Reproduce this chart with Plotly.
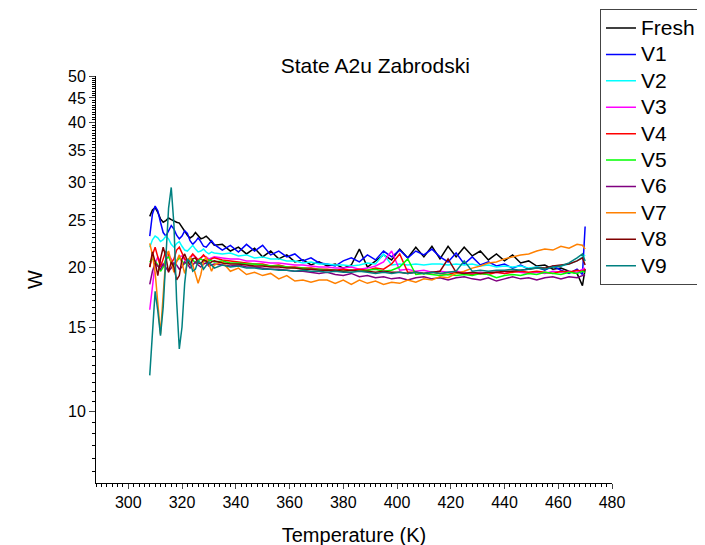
import plotly.graph_objects as go

# temperature grid (K) shared by all samples
TEMP = list(range(308, 333)) + list(range(335, 468, 3)) + [469, 470]

SERIES_NAMES = ['Fresh', 'V1', 'V2', 'V3', 'V4', 'V5', 'V6', 'V7', 'V8', 'V9']
COLORS = ['#000000', '#0000FF', '#00FFFF', '#FF00FF', '#FF0000',
          '#00FF00', '#800080', '#FF8000', '#800000', '#008080']

fresh = [25.5, 26.3, 26.6, 26.0, 25.2, 24.8, 25.0, 25.3, 25.1, 24.9, 24.8, 24.7, 24.2,
         23.8, 23.3, 23.0, 23.2, 23.6, 23.3, 22.9, 23.0, 23.2, 22.9, 22.5, 22.2,
         22.3, 21.6, 22.0, 21.3, 21.9, 21.0, 21.6, 20.8, 21.2, 20.5,
         20.7, 20.2, 20.5, 20.1, 20.3, 19.9, 20.2, 21.8, 20.0, 20.6,
         21.2, 20.7, 21.8, 20.9, 22.0, 21.0, 22.1, 20.8, 22.1, 21.0,
         22.0, 21.1, 21.6, 20.7, 21.3, 20.6, 21.2, 20.4, 20.6, 20.1,
         20.2, 19.8, 19.9, 19.6, 19.4, 18.3, 19.8]
v1 = [23.2, 25.8, 26.8, 26.2, 24.8, 23.6, 23.2, 23.8, 24.4, 24.0, 23.3, 22.9, 23.2,
      23.8, 23.5, 22.7, 22.3, 22.6, 23.0, 22.6, 22.1, 22.0, 22.4, 22.7, 22.3,
      21.7, 22.2, 21.5, 22.3, 21.6, 22.2, 21.2, 21.6, 21.0, 21.3,
      20.6, 20.9, 20.4, 20.3, 20.1, 20.6, 20.9, 20.5, 21.2, 20.7,
      21.6, 21.0, 21.7, 20.9, 21.6, 21.2, 21.8, 21.0, 20.5, 21.4,
      20.3, 21.0, 20.2, 20.5, 20.1, 20.3, 19.9, 20.2, 19.8, 20.0,
      19.7, 20.1, 19.7, 19.4, 19.8, 19.3, 24.3]
v2 = [22.0, 22.8, 23.2, 23.0, 22.6, 22.8, 23.2, 22.9, 22.3, 22.0, 22.4, 22.6, 22.1,
      21.7, 21.6, 21.9, 22.2, 21.8, 21.5, 21.6, 21.8, 21.5, 21.3, 21.5, 21.4,
      21.3, 21.4, 21.1, 21.2, 20.9, 21.0, 20.8, 20.8, 20.6, 20.6,
      20.4, 20.5, 20.3, 20.3, 20.2, 20.2, 20.1, 20.2, 20.4, 20.3,
      21.3, 20.2, 20.3, 20.2, 20.3, 20.2, 20.3, 20.3, 20.2, 20.3,
      20.2, 20.3, 20.1, 20.2, 20.0, 20.1, 20.0, 20.1, 19.9, 20.0,
      19.9, 20.0, 20.1, 20.3, 20.6, 21.0, 21.2]
v3 = [16.3, 18.5, 20.3, 21.0, 20.5, 20.0, 20.6, 21.2, 20.8, 20.2, 20.5, 21.0, 21.1,
      20.7, 20.5, 20.9, 21.2, 21.0, 20.7, 20.9, 21.1, 21.0, 20.8, 20.9, 21.0,
      20.9, 20.8, 20.8, 20.6, 20.6, 20.5, 20.4, 20.4, 20.3, 20.2,
      20.2, 20.1, 20.0, 20.0, 19.9, 19.9, 20.0, 19.8, 19.9, 20.1,
      20.5, 21.6, 19.7, 19.8, 19.6, 19.7, 19.5, 19.6, 19.5, 19.6,
      19.5, 19.4, 19.5, 19.4, 19.5, 19.4, 19.6, 19.5, 19.4, 19.5,
      19.4, 19.6, 19.5, 19.6, 19.5, 19.8, 19.9]
v4 = [20.0, 21.2, 22.0, 21.0, 20.0, 20.8, 21.6, 21.2, 20.4, 20.8, 21.7, 22.0, 21.4,
      20.8, 20.6, 21.0, 21.3, 21.0, 20.7, 20.9, 21.2, 20.9, 20.6, 20.8, 20.9,
      20.7, 20.6, 20.5, 20.4, 20.3, 20.3, 20.1, 20.2, 20.0, 20.0,
      19.9, 19.9, 19.8, 19.8, 19.7, 19.8, 19.7, 19.8, 19.7, 19.9,
      19.8, 20.3, 21.3, 19.5, 19.5, 19.4, 19.5, 19.4, 19.3, 19.5,
      19.4, 19.3, 19.4, 19.3, 19.5, 19.4, 19.5, 19.6, 19.5, 19.6,
      19.5, 19.4, 19.6, 19.5, 19.7, 19.6, 19.8]
v5 = [20.5, 20.8, 20.6, 20.2, 19.6, 20.0, 20.8, 21.0, 20.5, 20.2, 20.6, 20.9, 20.6,
      20.3, 20.6, 20.9, 20.7, 20.4, 20.6, 20.8, 20.6, 20.5, 20.7, 20.6, 20.5,
      20.6, 20.4, 20.4, 20.3, 20.3, 20.2, 20.1, 20.1, 20.0, 19.9,
      19.9, 19.8, 19.8, 19.7, 19.7, 19.6, 19.7, 19.6, 19.7, 19.8,
      19.6, 19.7, 20.0, 20.8, 19.3, 19.4, 19.3, 19.2, 19.3, 19.2,
      19.3, 19.2, 19.4, 19.3, 19.0, 19.2, 19.3, 19.2, 19.4, 19.3,
      19.5, 19.4, 19.3, 19.5, 19.4, 19.6, 19.5]
v6 = [18.4, 19.6, 20.4, 20.1, 19.8, 20.3, 20.0, 19.6, 19.9, 20.4, 20.2, 19.8, 20.0,
      20.5, 20.3, 19.9, 20.2, 20.5, 20.2, 20.0, 20.3, 20.4, 20.1, 20.2, 20.3,
      20.2, 20.1, 20.2, 20.0, 20.0, 19.9, 19.8, 19.8, 19.7, 19.6,
      19.6, 19.5, 19.4, 19.5, 19.3, 19.2, 19.4, 19.1, 19.2, 19.0,
      19.1, 18.9, 19.0, 18.8, 19.0, 19.1, 18.9, 19.0, 18.8, 19.0,
      19.1, 18.9, 18.8, 19.0, 18.7, 18.9, 19.1, 18.9, 19.0, 18.8,
      19.0, 19.1, 18.9, 19.1, 19.0, 19.2, 19.3]
v7 = [22.4, 21.2, 19.5, 16.8, 14.5, 17.5, 21.0, 21.6, 20.4, 19.5, 20.6, 21.2, 20.4,
      19.4, 20.3, 21.0, 20.2, 19.2, 18.5, 19.3, 20.5, 21.0, 20.2, 19.6, 20.2,
      20.5, 19.6, 19.9, 19.3, 19.5, 19.2, 19.4, 18.9, 19.2, 18.7,
      18.8, 18.6, 18.8, 18.8, 18.5, 18.8, 18.4, 18.8, 18.5, 18.7,
      18.4, 18.6, 18.5, 18.8, 18.6, 18.9, 18.8, 19.1, 19.0, 19.4,
      19.6, 19.9, 20.1, 20.4, 20.5, 20.8, 21.0, 21.2, 21.3, 21.6,
      21.8, 21.7, 22.1, 21.9, 22.3, 22.2, 21.8]
v8 = [20.0, 21.5, 20.5, 19.2, 20.8, 22.0, 21.0, 19.5, 20.5, 20.0, 18.8, 19.2, 20.8,
      21.3, 20.6, 20.2, 20.8, 20.9, 20.4, 20.3, 20.7, 20.6, 20.3, 20.5, 20.6,
      20.4, 20.3, 20.3, 20.2, 20.1, 20.1, 20.0, 20.0, 19.9, 19.9,
      19.8, 19.8, 19.7, 19.7, 19.7, 19.6, 19.7, 19.6, 19.6, 19.5,
      19.6, 19.5, 19.5, 19.4, 19.5, 19.4, 19.5, 19.6, 20.8, 19.5,
      19.4, 19.5, 19.4, 19.5, 19.5, 19.6, 19.6, 19.7, 19.8, 19.9,
      19.9, 20.1, 20.2, 20.3, 20.6, 20.9, 20.2]
v9 = [11.9, 15.0, 17.8, 16.2, 14.4, 16.5, 21.0, 26.5, 29.3, 24.5, 17.0, 13.5, 15.0,
      18.5, 20.8, 20.5, 19.6, 19.8, 20.6, 20.4, 19.8, 20.1, 20.5, 20.2, 19.9,
      20.2, 20.0, 20.1, 19.9, 19.9, 19.8, 19.8, 19.7, 19.7, 19.6,
      19.7, 19.6, 19.6, 19.5, 19.6, 19.5, 19.5, 19.6, 19.5, 19.4,
      19.5, 19.4, 19.5, 19.4, 19.5, 19.4, 19.5, 19.4, 19.5, 19.6,
      20.6, 19.6, 19.7, 19.6, 19.7, 19.7, 19.8, 19.7, 19.8, 19.9,
      19.8, 20.0, 20.1, 20.4, 20.9, 21.3, 20.6]

ALL_SERIES = [fresh, v1, v2, v3, v4, v5, v6, v7, v8, v9]

Y_TICKS = [10, 15, 20, 25, 30, 35, 40, 45, 50]

FONT = 'Arial, Liberation Sans, sans-serif'


def build_figure():
    fig = go.Figure()

    for name, color, values in zip(SERIES_NAMES, COLORS, ALL_SERIES):
        # bigger glyphs than the legend font so the rows stay tight
        label = '<span style="font-size:21px">' + name + '</span>'
        fig.add_trace(go.Scatter(x=TEMP, y=values, name=label, mode='lines',
                                 line=dict(color=color, width=1.5)))

    # minor ticks every 0.5 on the log axis
    y_minor = [v / 2 for v in range(15, 100) if v % 10 != 0]

    fig.update_layout(
        width=705, height=545,
        margin=dict(l=88, r=101, t=68, b=70, autoexpand=False),
        plot_bgcolor='white', paper_bgcolor='white',
        font=dict(family=FONT, color='#000000'),
        title=dict(text='State A2u Zabrodski', x=0.521, xref='container', xanchor='center',
                   y=1 - 58 / 545, yref='container', yanchor='middle',
                   font=dict(size=21, family=FONT, color='#000000')),
        legend=dict(x=0.9767, xanchor='left', y=1.165, yanchor='top',
                    bgcolor='white', bordercolor='#444444', borderwidth=1,
                    font=dict(size=18, family=FONT, color='#000000'),
                    tracegroupgap=0, maxheight=500),
    )

    fig.update_xaxes(range=[288, 480], tick0=300, dtick=20, ticks='outside', ticklen=5,
                     showline=True, linecolor='black', linewidth=1, showgrid=False,
                     zeroline=False, tickfont=dict(size=16),
                     minor=dict(dtick=2, ticks='outside', ticklen=3, tickcolor='black'),
                     title=dict(text='Temperature (K)', font=dict(size=20), standoff=17))

    fig.update_yaxes(type='log', range=[0.8513, 1.69897], tickmode='array', tickvals=Y_TICKS,
                     ticktext=[str(t) for t in Y_TICKS], ticks='outside', ticklen=6,
                     showline=True, linecolor='black', linewidth=1, showgrid=False,
                     zeroline=False, tickfont=dict(size=16),
                     minor=dict(tickmode='array', tickvals=y_minor, ticks='outside',
                                ticklen=3, tickcolor='black'),
                     title=dict(text='W', font=dict(size=20), standoff=20))

    return fig


def main():
    fig = build_figure()
    fig.write_html('out.html')


if __name__ == '__main__':
    main()
